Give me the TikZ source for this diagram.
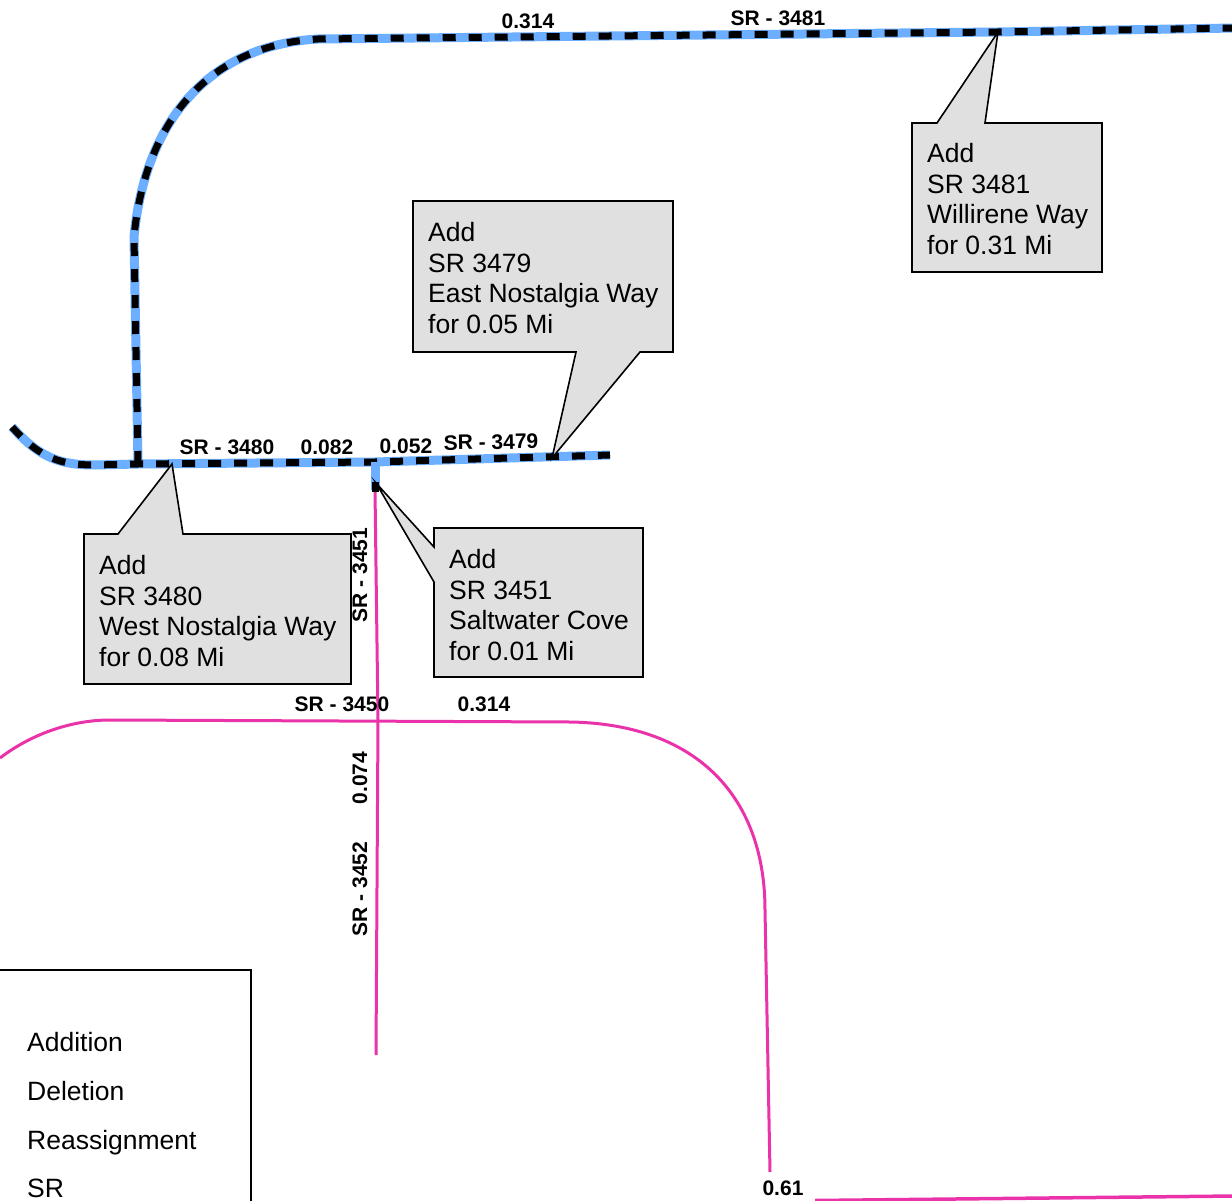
\documentclass[tikz,border=0pt]{standalone}
\usepackage{fontspec}
\setmainfont{Liberation Sans}
\definecolor{roadblue}{RGB}{108,174,255}
\definecolor{roadpink}{RGB}{234,51,170}
\definecolor{callgray}{RGB}{224,224,224}
\tikzset{
  bluebase/.style={roadblue,line width=9pt},
  blackdash/.style={black,line width=7pt,dash pattern=on 13pt off 13pt},
  pinkroad/.style={roadpink,line width=3pt},
  callout/.style={draw=black,fill=callgray,line width=1.6pt,line join=miter},
  calltext/.style={anchor=north west,inner sep=0pt,align=left,font=\fontsize{26.5}{30.7}\selectfont},
  roadlabel/.style={inner sep=0pt,font=\fontsize{21}{24}\selectfont\bfseries},
  legendtext/.style={anchor=base west,inner sep=0pt,font=\fontsize{26.5}{30}\selectfont}
}
\begin{document}
\begin{tikzpicture}[x=1pt,y=-1pt]
\clip (0,0) rectangle (1232,1201);
\fill[white] (0,0) rectangle (1232,1201);
% coordinates
\coordinate (la) at (12,427);
\coordinate (lb) at (95,465);
\coordinate (jn) at (138,464);
\coordinate (mid) at (375,462);
\coordinate (le) at (610,455);
\coordinate (vt) at (134,237);
\coordinate (tc) at (318,39);
\coordinate (tp) at (998,32);
\coordinate (te) at (1235,28);
\coordinate (stub) at (375,490);
% pink roads
\coordinate (p1) at (0,758);
\coordinate (p2) at (110,720);
\coordinate (p3) at (570,722);
\coordinate (p4) at (765,910);
\coordinate (p5) at (770,1172);
\draw[pinkroad] (p1) .. controls (30,735) and (70,720) .. (p2) -- (p3) .. controls (700,724) and (765,800) .. (p4) -- (p5);
\draw[pinkroad] (stub) -- (378,720) -- (376,1055);
\draw[pinkroad,line width=3.5pt] (815,1200.5) -- (1235,1196);
% blue roads
\foreach \s in {bluebase,blackdash}{
  \draw[\s] (la) .. controls (40,458) and (60,465) .. (lb) -- (jn) -- (mid) -- (le);
  \draw[\s] (jn) -- (vt) .. controls (145,120) and (210,45) .. (tc) -- (tp) -- (te);
}
\draw[bluebase,line cap=butt] (mid) -- (stub);
\draw[black,line width=7pt] (375,482) -- (375,492);
% callouts
\draw[callout] (912,123) -- (937,123) -- (tp) -- (985,123) -- (1102,123) -- (1102,272) -- (912,272) -- cycle;
\node[calltext] (c3481) at (927,143) {Add\\SR 3481\\Willirene Way\\for 0.31 Mi};
\draw[callout] (413,201) -- (673,201) -- (673,352) -- (640,352) -- (552,458) -- (576,352) -- (413,352) -- cycle;
\node[calltext] (c3479) at (428,222) {Add\\SR 3479\\East Nostalgia Way\\for 0.05 Mi};
\draw[callout] (84,534) -- (118,534) -- (172,464) -- (183,534) -- (351,534) -- (351,684) -- (84,684) -- cycle;
\node[calltext] (c3480) at (99,555) {Add\\SR 3480\\West Nostalgia Way\\for 0.08 Mi};
\draw[callout] (434,528) -- (643,528) -- (643,677) -- (434,677) -- (434,582) -- (376,483) -- (434,547) -- cycle;
\node[calltext] (c3451) at (449,549) {Add\\SR 3451\\Saltwater Cove\\for 0.01 Mi};
% road labels
\node[roadlabel] (l1) at (528,21) {0.314};
\node[roadlabel] (l2) at (778,18) {SR - 3481};
\node[roadlabel] (l3) at (227,447) {SR - 3480};
\node[roadlabel] (l4) at (327,447) {0.082};
\node[roadlabel] (l5) at (406,446) {0.052};
\node[roadlabel,rotate=1] (l6) at (491,442) {SR - 3479};
\node[roadlabel,rotate=90] (l7) at (360,575) {SR - 3451};
\node[roadlabel] (l8) at (342,704) {SR - 3450};
\node[roadlabel] (l9) at (484,704) {0.314};
\node[roadlabel,rotate=90] (l10) at (360,778) {0.074};
\node[roadlabel,rotate=90] (l11) at (360,889) {SR - 3452};
\node[roadlabel] (l12) at (783,1188) {0.61};
% legend
\draw[black,line width=1.8pt] (-10,970) -- (251,970) -- (251,1215);
\node[legendtext] (g1) at (27,1051) {Addition};
\node[legendtext] (g2) at (27,1100) {Deletion};
\node[legendtext] (g3) at (27,1149) {Reassignment};
\node[legendtext] (g4) at (27,1197) {SR};
\end{tikzpicture}
\end{document}
